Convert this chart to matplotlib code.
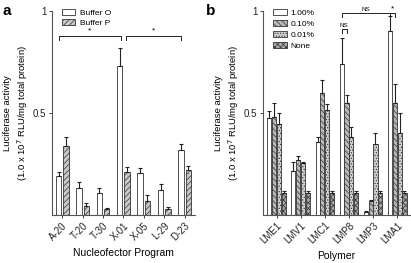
import matplotlib
import matplotlib.pyplot as plt
import numpy as np

matplotlib.use("Agg")
plt.rcParams["font.family"] = "Liberation Sans"
plt.rcParams["hatch.linewidth"] = 0.5

# panel a
programs = ["A-20", "T-20", "T-30", "X-01", "X-05", "L-29", "D-23"]
buffer_o = [0.19, 0.13, 0.11, 0.73, 0.205, 0.125, 0.32]
buffer_o_err = [0.02, 0.03, 0.02, 0.09, 0.025, 0.025, 0.03]
buffer_p = [0.34, 0.044, 0.03, 0.21, 0.07, 0.03, 0.22]
buffer_p_err = [0.04, 0.016, 0.005, 0.025, 0.03, 0.01, 0.02]

# panel b
polymers = ["LME1", "LMV1", "LMC1", "LMP8", "LMP3", "LMA1"]
conc_labels = ["1.00%", "0.10%", "0.01%", "None"]
pct_100 = [0.475, 0.215, 0.36, 0.74, 0.015, 0.90]
pct_100_err = [0.035, 0.045, 0.02, 0.13, 0.005, 0.075]
pct_010 = [0.48, 0.27, 0.60, 0.55, 0.07, 0.55]
pct_010_err = [0.07, 0.02, 0.06, 0.04, 0.005, 0.09]
pct_001 = [0.445, 0.255, 0.515, 0.38, 0.35, 0.40]
pct_001_err = [0.055, 0.005, 0.03, 0.05, 0.05, 0.10]
no_poly = [0.11, 0.11, 0.11, 0.11, 0.11, 0.11]
no_poly_err = [0.01, 0.01, 0.01, 0.01, 0.01, 0.01]

ylab = "Luciferase activity\n(1.0 x 10$^7$ RLU/mg total protein)"
edge = "#333333"
fs = 7

fig = plt.figure(figsize=(4.11, 2.63), dpi=100)
axa = fig.add_axes([0.1265, 0.1825, 0.3475, 0.7755])
axb = fig.add_axes([0.64, 0.1825, 0.357, 0.7755])


def style(ax, xlabel, labels):
    ax.set_ylim(0, 1)
    ax.set_yticks([0.5, 1])
    ax.set_yticklabels(["0.5", "1"])
    ax.spines["top"].set_visible(False)
    ax.spines["right"].set_visible(False)
    for s in ["left", "bottom"]:
        ax.spines[s].set_color("#555555")
        ax.spines[s].set_linewidth(0.8)
    ax.tick_params(labelsize=fs, length=2.5, width=0.6, colors="#222222", pad=1.5)
    ax.set_xticks(np.arange(len(labels)))
    ax.set_xticklabels(labels, rotation=45, ha="right", rotation_mode="anchor", fontsize=fs)
    ax.set_xlabel(xlabel, fontsize=7.5, labelpad=4)
    ax.set_ylabel(ylab, fontsize=6.8, linespacing=1.35, labelpad=2)


def ebar(ax, x, v, e):
    ax.errorbar(x, v, yerr=[np.zeros(len(v)), e], fmt="none", ecolor="#222222",
                elinewidth=0.8, capsize=1.5, capthick=0.8)


def bracket(ax, x1, x2, y, txt, h=0.02, tfs=6):
    ax.plot([x1, x1, x2, x2], [y - h, y, y, y - h], color="#222222", lw=0.7, clip_on=False)
    ax.text((x1 + x2) / 2, y + 0.005, txt, ha="center", va="bottom", fontsize=tfs)


# panel a
x = np.arange(len(programs))
w = 0.27
axa.bar(x - 0.18, buffer_o, w, color="white", edgecolor=edge, lw=0.6, label="Buffer O")
axa.bar(x + 0.18, buffer_p, w, color="#c8c8c8", edgecolor=edge, lw=0.6, hatch="//////", label="Buffer P")
ebar(axa, x - 0.18, buffer_o, buffer_o_err)
ebar(axa, x + 0.18, buffer_p, buffer_p_err)
axa.set_xlim(-0.5, 6.5)
style(axa, "Nucleofector Program", programs)
bracket(axa, -0.18, 2.88, 0.88, "*")
bracket(axa, 3.12, 5.82, 0.88, "*")
axa.legend(loc="upper left", bbox_to_anchor=(0.03, 1.04), frameon=False, fontsize=6,
           handlelength=1.6, handleheight=0.8, labelspacing=0.25, borderpad=0.2, handletextpad=0.5)

# panel b
xb = np.arange(len(polymers))
wb = 0.17
offs = [-0.3, -0.1, 0.1, 0.3]
series = [pct_100, pct_010, pct_001, no_poly]
errs = [pct_100_err, pct_010_err, pct_001_err, no_poly_err]
fills = ["white", "#b8b8b8", "#cfcfcf", "#a8a8a8"]
hatches = [None, "\\\\\\\\\\\\", "......", "xxxxxx"]
for o, v, e, c, h, lab in zip(offs, series, errs, fills, hatches, conc_labels):
    axb.bar(xb + o, v, wb, color=c, edgecolor=edge, lw=0.6, hatch=h, label=lab)
    ebar(axb, xb + o, v, e)
axb.set_xlim(-0.56, 5.52)
style(axb, "Polymer", polymers)
bracket(axb, 3 - 0.3, 3 - 0.1, 0.91, "NS", h=0.02, tfs=4.5)
bracket(axb, 3 - 0.3, 5 - 0.3, 0.99, "NS", h=0.02, tfs=4.5)
bracket(axb, 5 - 0.28, 5 - 0.1, 0.99, "*", h=0.02)
axb.legend(loc="upper left", bbox_to_anchor=(0.03, 1.04), frameon=False, fontsize=6,
           handlelength=1.6, handleheight=0.8, labelspacing=0.35, borderpad=0.2, handletextpad=0.5)

fig.text(0.005, 0.985, "a", fontsize=11, fontweight="bold", va="top")
fig.text(0.5, 0.985, "b", fontsize=11, fontweight="bold", va="top")

fig.savefig("out.png", dpi=100)
